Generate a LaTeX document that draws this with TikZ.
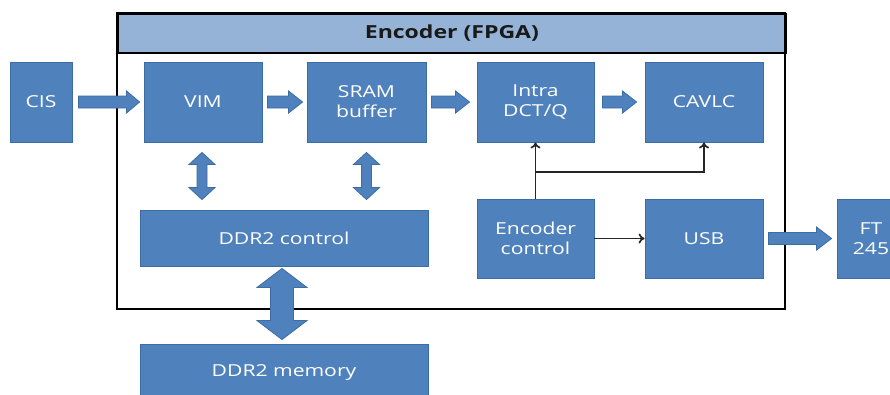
\documentclass[tikz,border=0pt]{standalone}
\usepackage{fontspec}
\setmainfont{Open Sans}[FakeStretch=1.28]
\usetikzlibrary{calc,arrows.meta}
\definecolor{boxblue}{HTML}{4F81BD}
\definecolor{boxedge}{HTML}{3C6CA4}
\definecolor{headblue}{HTML}{95B3D7}
\newcommand\HArrow[5]{%
  \path[barrow] let \p1=#1, \p2=#2 in
   (\x1,\y1+#3) -- (\x2-#5,\y1+#3) -- (\x2-#5,\y1+#4) -- (\x2,\y1) --
   (\x2-#5,\y1-#4) -- (\x2-#5,\y1-#3) -- (\x1,\y1-#3) -- cycle;}
\newcommand\VDArrow[5]{%
  \path[barrow] let \p1=#1, \p2=#2 in
   (\x1,\y1) -- (\x1+#4,\y1-#5) -- (\x1+#3,\y1-#5) -- (\x1+#3,\y2+#5) --
   (\x1+#4,\y2+#5) -- (\x1,\y2) -- (\x1-#4,\y2+#5) -- (\x1-#3,\y2+#5) --
   (\x1-#3,\y1-#5) -- (\x1-#4,\y1-#5) -- cycle;}
\begin{document}
\begin{tikzpicture}[x=1pt,y=-1pt,
  blk/.style={draw=boxedge,line width=0.9pt,fill=boxblue,text=white,
    align=center,inner sep=0pt,font=\fontsize{16.5}{20}\selectfont},
  barrow/.style={draw=boxedge,line width=0.8pt,fill=boxblue},
  thin/.style={draw=black!85,line width=1.7pt,-{To[length=6pt,width=10pt]}}]
\useasboundingbox (0,0) rectangle (890,394);
\clip (0,0) rectangle (890,394);
% frame
\draw[line width=2.6pt,fill=white] (117,13) rectangle (785,309);
\node[draw=black,line width=1.8pt,fill=headblue,minimum width=668pt,minimum height=39pt,
  inner sep=0pt,anchor=north west,font=\bfseries\fontsize{18}{22}\selectfont,text=black!90]
  (head) at (117,13) {Encoder (FPGA)};
\draw[line width=2.6pt] (117,13) rectangle (785,309);
% boxes
\node[blk,minimum width=62pt,minimum height=80pt] (cis) at (41,102) {CIS};
\node[blk,minimum width=118pt,minimum height=80pt] (vim) at (203,102) {VIM};
\node[blk,minimum width=119pt,minimum height=80pt] (sram) at (366.5,102) {SRAM\\buffer};
\node[blk,minimum width=117pt,minimum height=80pt] (intra) at (535.5,102) {Intra\\DCT/Q};
\node[blk,minimum width=118pt,minimum height=80pt] (cavlc) at (704,102) {CAVLC};
\node[blk,minimum width=288pt,minimum height=56pt] (ddrc) at (284,238) {DDR2 control};
\node[blk,minimum width=117pt,minimum height=79pt] (encc) at (535.5,238.5) {Encoder\\control};
\node[blk,minimum width=118pt,minimum height=79pt] (usb) at (704,238.5) {USB};
\node[blk,minimum width=68pt,minimum height=79pt] (ft) at (871,238.5) {FT\\245};
\node[blk,minimum width=288pt,minimum height=56pt] (ddrm) at (284,372) {DDR2 memory};
% block arrows
\HArrow{($(cis.east)+(6,0)$)}{($(vim.west)+(-4,0)$)}{6pt}{11pt}{13pt}
\HArrow{($(vim.east)+(5,0)$)}{($(sram.west)+(-4,0)$)}{6pt}{11pt}{14pt}
\HArrow{($(sram.east)+(5,0)$)}{($(intra.west)+(-7,0)$)}{6pt}{11pt}{14pt}
\HArrow{($(intra.east)+(8,0)$)}{($(cavlc.west)+(-8,0)$)}{6pt}{11pt}{14pt}
\HArrow{($(usb.east)+(5,0)$)}{($(ft.west)+(-5,0)$)}{6pt}{11.5pt}{15pt}
\VDArrow{($(vim.south)+(-1,10)$)}{($(ddrc.north)+(0,-10)$)}{5pt}{13pt}{12pt}
\VDArrow{($(sram.south)+(0,10)$)}{($(ddrc.north)+(0,-10)$)}{5pt}{13pt}{12pt}
\VDArrow{($(ddrc.south)+(-2,2)$)}{($(ddrm.north)+(0,-4)$)}{11.5pt}{25pt}{19pt}
% thin connectors
\coordinate (br) at ($(encc.north)!0.47!(intra.south)$);
\draw[thin] (encc.north) -- (intra.south);
\draw[thin] (br) -| (cavlc.south);
\draw[thin] (encc.east) -- (usb.west);
\end{tikzpicture}
\end{document}
